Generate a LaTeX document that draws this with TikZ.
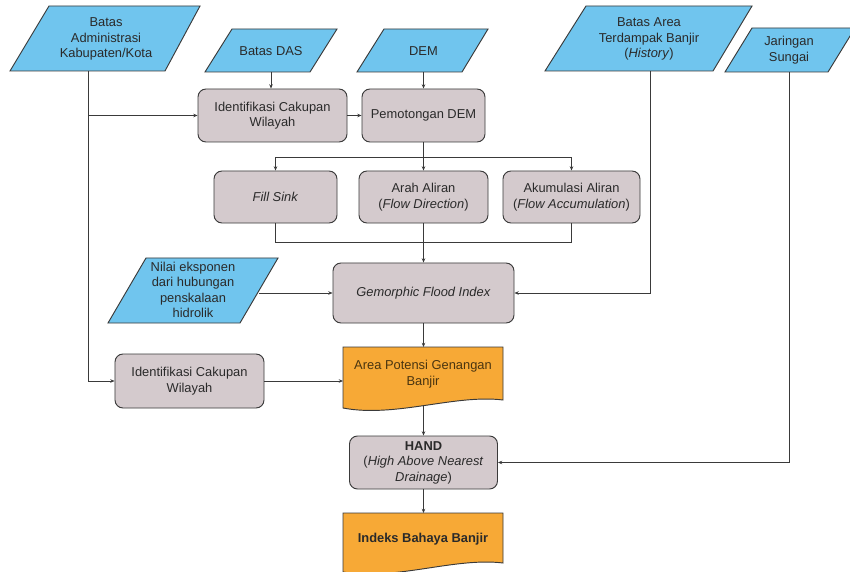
\documentclass[tikz,border=0pt]{standalone}
\usepackage{fontspec}
\setmainfont{Liberation Sans}
\usetikzlibrary{arrows.meta}

\definecolor{inblue}{HTML}{70C5EE}
\definecolor{procgray}{HTML}{D4CACD}
\definecolor{outorange}{HTML}{F7A936}
\definecolor{edgecol}{HTML}{3A3A3A}
\definecolor{ink}{HTML}{2A2A2A}
\definecolor{brownink}{HTML}{4A3510}

% input data shape: top-left x, top-right x, top y, bottom-left x, bottom-right x, bottom y
\newcommand{\inshape}[6]{%
  \draw[shapeline, fill=inblue] (#1,#3) -- (#2,#3) -- (#5,#6) -- (#4,#6) -- cycle;}

\begin{document}
\begin{tikzpicture}[x=0.03cm, y=-0.03cm,
  txt/.style={align=center, text=ink, font=\fontsize{11}{13.2}\selectfont, inner sep=0pt},
  proc/.style={txt, draw=edgecol, line width=0.8pt, fill=procgray,
    rounded corners=0.24cm, inner sep=2pt},
  shapeline/.style={draw=edgecol, line width=0.8pt},
  flow/.style={draw=edgecol, line width=0.6pt},
  arr/.style={flow, -{Stealth[length=3.6pt, width=3pt]}}
]
\useasboundingbox (0,0) rectangle (850,572);
\fill[white] (0,0) rectangle (850,572);
\clip (0,0) rectangle (850,572);

% ---- input data ----
\inshape{49}{200}{6}{10}{165}{71}
\node[txt] (admin) at (106,39) {Batas\\Administrasi\\Kabupaten/Kota};
\coordinate (adminS) at (88,71);

\inshape{232}{337}{29}{205}{310}{72}
\node[txt] (das) at (271,51) {Batas DAS};
\coordinate (dasS) at (271,72);

\inshape{384}{488}{29}{357}{462}{72}
\node[txt] (dem) at (423.5,51) {DEM};
\coordinate (demS) at (423.5,72);

\inshape{586}{752}{6}{545}{713}{71}
\node[txt] (hist) at (649,39) {Batas Area\\Terdampak Banjir\\(\textit{History})};
\coordinate (histS) at (650,71);

\inshape{752}{855}{28}{725}{828}{72}
\node[txt] (sungai) at (789,50) {Jaringan\\Sungai};
\coordinate (sungaiS) at (789,72);

\inshape{146}{278}{258}{108}{240}{323}
\node[txt] (nilai) at (193,290) {Nilai eksponen\\dari hubungan\\penskalaan\\hidrolik};
\coordinate (nilaiE) at (259,293);

% ---- processes ----
\node[proc, minimum width=4.47cm, minimum height=1.59cm] (ident1) at (272.5,115.5)
  {Identifikasi Cakupan\\Wilayah};
\node[proc, minimum width=3.69cm, minimum height=1.59cm] (pemot) at (423.5,115.5)
  {Pemotongan DEM};
\node[proc, minimum width=3.69cm, minimum height=1.56cm] (fill) at (275.5,197)
  {\textit{Fill Sink}};
\node[proc, minimum width=3.87cm, minimum height=1.56cm] (arah) at (423.5,197)
  {Arah Aliran\\(\textit{Flow Direction})};
\node[proc, minimum width=4.11cm, minimum height=1.56cm] (akum) at (571.5,197)
  {Akumulasi Aliran\\(\textit{Flow Accumulation})};
\node[proc, minimum width=5.43cm, minimum height=1.8cm] (gfi) at (423.5,293)
  {\textit{Gemorphic Flood Index}};
\node[proc, minimum width=4.47cm, minimum height=1.62cm] (ident2) at (189.5,381)
  {Identifikasi Cakupan\\Wilayah};
\node[proc, minimum width=4.44cm, minimum height=1.59cm] (hand) at (423.5,462.5)
  {\textbf{HAND}\\(\textit{High Above Nearest}\\\textit{Drainage})};

% ---- outputs (document shapes) ----
\draw[shapeline, fill=outorange] (343,347) -- (503,347) -- (503,400)
  .. controls (455,394) and (395,418) .. (343,408) -- cycle;
\node[txt, text=brownink] (area) at (423,374) {Area Potensi Genangan\\Banjir};
\coordinate (areaN) at (423.5,347);
\coordinate (areaW) at (343,381);
\coordinate (areaS) at (423.5,405);

\draw[shapeline, fill=outorange] (343,513) -- (503,513) -- (503,563)
  .. controls (455,557) and (395,581) .. (343,572) -- cycle;
\node[txt] (indeks) at (423,539) {\textbf{Indeks Bahaya Banjir}};
\coordinate (indeksN) at (423.5,513);

% ---- connectors ----
\draw[arr] (adminS) |- (ident2.west);
\draw[arr] (adminS |- ident1.west) -- (ident1.west);
\draw[arr] (dasS) -- (dasS |- ident1.north);
\draw[arr] (ident1.east) -- (pemot.west);
\draw[arr] (demS) -- (pemot.north);

\coordinate (split) at (423.5,157);
\draw[flow] (pemot.south) -- (split);
\draw[arr] (split) -| (fill.north);
\draw[arr] (split) -| (akum.north);
\draw[arr] (split) -- (arah.north);

\coordinate (merge) at (423.5,242);
\draw[flow] (fill.south) |- (merge);
\draw[flow] (akum.south) |- (merge);
\draw[arr] (arah.south) -- (gfi.north);

\draw[arr] (nilaiE) -- (gfi.west);
\draw[arr] (histS) |- (gfi.east);
\draw[arr] (gfi.south) -- (areaN);
\draw[arr] (ident2.east) -- (areaW);
\draw[arr] (areaS) -- (hand.north);
\draw[arr] (sungaiS) |- (hand.east);
\draw[arr] (hand.south) -- (indeksN);
\end{tikzpicture}
\end{document}
